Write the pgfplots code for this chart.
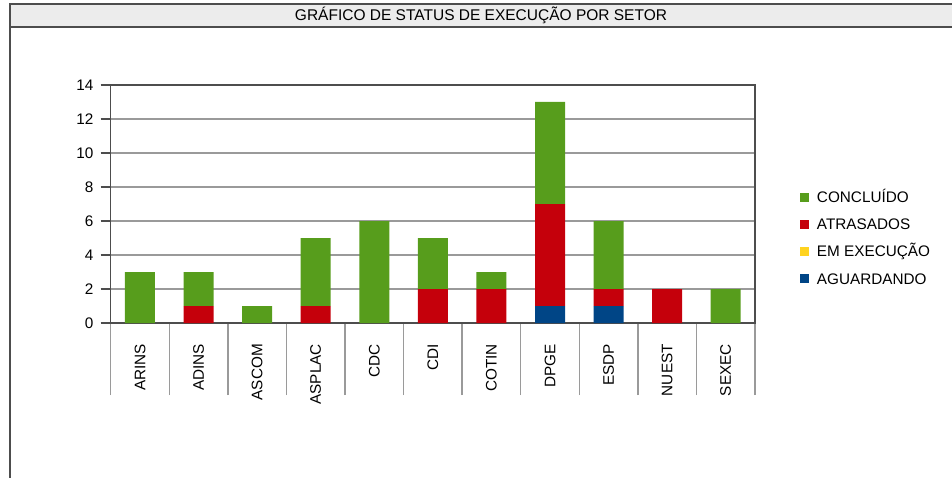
\documentclass[border=0pt]{standalone}
\usepackage{fontspec}
\setmainfont{Liberation Sans}
\usepackage{pgfplots}
\pgfplotsset{compat=1.18}

\definecolor{conc}{HTML}{579D1C}
\definecolor{atra}{HTML}{C5000B}
\definecolor{exec}{HTML}{FFD320}
\definecolor{agua}{HTML}{004586}
\definecolor{frame}{HTML}{4D4D4D}
\definecolor{gridc}{HTML}{9A9A9A}
\definecolor{titlebg}{HTML}{ECECEC}

% setores: ARINS ADINS ASCOM ASPLAC CDC CDI COTIN DPGE ESDP NUEST SEXEC
\pgfplotsset{
  myleg/.style={legend image code/.code={
      \fill[##1,draw=none] (0pt,-4.5pt) rectangle (9pt,4.5pt);
      \path (17pt,0pt);}},
}
\newcommand{\fnt}{\fontsize{15.3}{18}\selectfont}

\begin{document}
\begin{tikzpicture}[x=1pt,y=1pt,font=\fnt]
\path[use as bounding box] (0,0) rectangle (952,477);
\draw[frame, line width=1.5pt] (10,450) -- (10,-5);
\draw[frame, line width=1.5pt, fill=titlebg] (10,473) rectangle (965,450);
\node at (481,461.5) {\fontsize{15.5}{18}\selectfont GRÁFICO DE STATUS DE EXECUÇÃO POR SETOR};

\begin{axis}[
  at={(110.7pt,154pt)}, anchor=south west,
  width=644.3pt, height=238pt, scale only axis,
  ybar stacked, bar width=30pt,
  xmin=-0.5, xmax=10.5,
  ymin=0, ymax=14,
  xtick={0,...,10},
  xticklabels={ARINS,ADINS,ASCOM,ASPLAC,CDC,CDI,COTIN,DPGE,ESDP,NUEST,SEXEC},
  minor xtick={-0.5,0.5,...,10.5},
  extra x ticks={-0.5,0.5,...,10.5},
  extra x tick labels={},
  extra x tick style={major tick length=10pt, tick style={frame, line width=1.5pt}},
  ytick={0,2,...,14},
  tick align=outside,
  xtick pos=bottom, ytick pos=left,
  x tick style={draw=none},
  minor x tick style={draw=gridc, line width=1.5pt},
  minor tick length=72pt,
  y tick style={frame, line width=1.5pt},
  major tick length=10pt,
  xticklabel style={rotate=90, anchor=east, inner sep=0pt, font=\fnt},
  xticklabel shift=11pt,
  yticklabel style={inner sep=0pt, font=\fnt},
  yticklabel shift=7pt,
  /pgf/number format/assume math mode=true,
  ymajorgrids, grid style={gridc, line width=1.5pt},
  axis line style={frame, line width=1.5pt},
  reverse legend,
  legend cell align=left,
  legend style={at={(1.0698,0.357)}, anchor=west, draw=none, fill=none,
    inner sep=0pt, outer sep=0pt, row sep=16.8pt,
    nodes={inner sep=0pt, text height=10.5pt, text depth=0pt, anchor=west,
      font=\fnt}},
  myleg,
]
\addplot[fill=agua, draw=none] coordinates {(0,0) (1,0) (2,0) (3,0) (4,0) (5,0) (6,0) (7,1) (8,1) (9,0) (10,0)};
\addplot[fill=exec, draw=none] coordinates {(0,0) (1,0) (2,0) (3,0) (4,0) (5,0) (6,0) (7,0) (8,0) (9,0) (10,0)};
\addplot[fill=atra, draw=none] coordinates {(0,0) (1,1) (2,0) (3,1) (4,0) (5,2) (6,2) (7,6) (8,1) (9,2) (10,0)};
\addplot[fill=conc, draw=none] coordinates {(0,3) (1,2) (2,1) (3,4) (4,6) (5,3) (6,1) (7,6) (8,4) (9,0) (10,2)};
\legend{AGUARDANDO, EM EXECUÇÃO, ATRASADOS, CONCLUÍDO}
\end{axis}
\end{tikzpicture}
\end{document}
